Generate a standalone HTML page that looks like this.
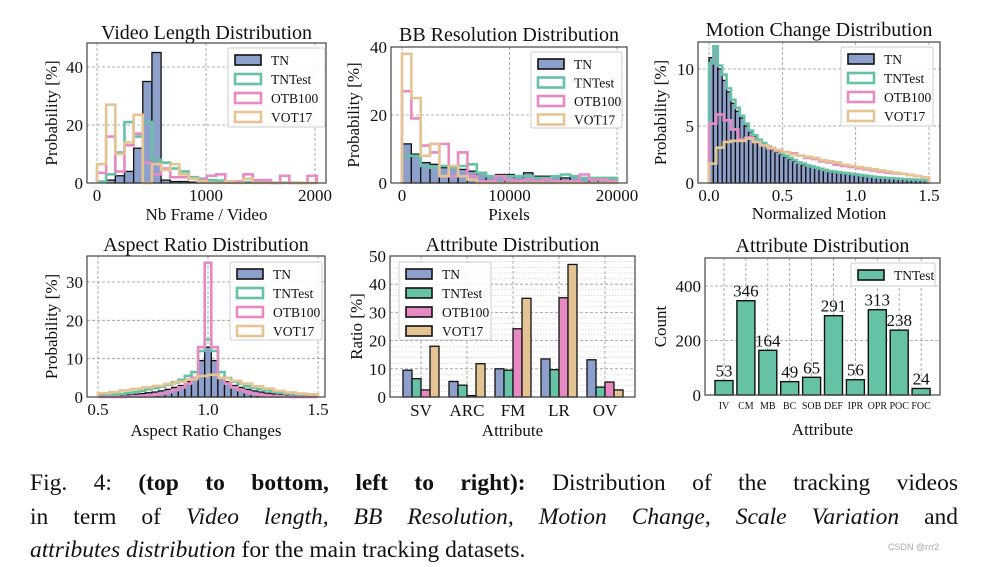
<!DOCTYPE html>
<html><head><meta charset="utf-8">
<style>
body{margin:0;background:#fff;width:981px;height:563px;overflow:hidden;position:relative;font-family:"Liberation Serif",serif}
svg{position:absolute;left:0;top:0}
.cap{position:absolute;left:30px;width:928px;font-size:23.5px;color:#111;line-height:33px;white-space:nowrap}
.j{text-align:justify;text-align-last:justify}
</style></head><body>
<svg id="fig" width="981" height="563" viewBox="0 0 981 563" font-family="Liberation Serif, serif"></svg>
<div class="cap j" style="top:467px">Fig. 4: <b>(top to bottom, left to right):</b> Distribution of the tracking videos</div>
<div class="cap j" style="top:501px">in term of <i>Video length</i>, <i>BB Resolution</i>, <i>Motion Change</i>, <i>Scale Variation</i> and</div>
<div class="cap" style="top:534px"><i>attributes distribution</i> for the main tracking datasets.</div>
<div style="position:absolute;left:888px;top:542px;font:9px 'Liberation Sans',sans-serif;color:#aaa">CSDN @rrr2</div>
<script>
// ---- data ----
const seriesNames = ["TN","TNTest","OTB100","VOT17"];
// Panel 1: video length (frames)
const vlTN = [0,1,2.5,4,12,35,45,1,0.5,0.5,0.3,0.3,0.2,0.2,0.1,0.1,0.1,0.1,0,0,0,0,0,0];
const vlTNTest = [0.5,3,10.5,21,16,21,8,7,5,4,2,1.5,1,0.8,0.5,0.5,0.3,0.2,0.2,0.1,0.1,0.1,0,0];
const vlOTB = [3.5,16,4,13,17,7,3,5,2,2,1.5,1,2.5,3,0.5,0.5,3,1,1,0,2.5,0,0,2.5];
const vlVOT = [6.5,27,10,14,23.5,0,6.5,4.5,6.5,3,1.5,0.5,0,0,0.5,0,1.5,0,0,0,0,0,0,0];
const vlTicksX = [0,1000,2000];
const vlTicksY = [0,20,40];
// Panel 2: BB resolution (pixels)
const bbTN = [11.5,8.5,6,5.5,4.5,4.5,4,3.5,3,2,2.5,2.5,2,3,2,2,2,1.5,2,1.5,1.5,1.5,1.5];
const bbTNTest = [8,8,5,4.5,5,4.5,5,5.5,3,2,2,2,2,2,1.5,1.5,2,2.5,2,1.5,1.5,1.5,1.5];
const bbOTB = [27,19,11,9,11.5,2,9,2,0.5,0.5,2,1,0.5,1,0.5,1,0.5,0.5,0.5,2.5,1,1,0.5];
const bbVOT = [38,25,8,11.5,2,5,2,1,0,0,0,0,0,0,0,0,0,0,0,0,0,0,0];
const bbTicksX = [0,10000,20000];
const bbTicksY = [0,20,40];
// Panel 3: motion change
const mcTN = [11,12,10,9,8,7,6.3,5.7,5,4.5,4.1,3.7,3.4,3.1,2.9,2.7,2.5,2.3,2.1,1.9,1.8,1.6,1.5,1.4,1.3,1.2,1.1,1.0,0.95,0.9,0.85,0.8,0.75,0.7,0.65,0.6,0.55,0.5,0.48,0.45,0.42,0.4,0.37,0.35,0.32,0.3,0.28,0.26,0.24,0.22];
const mcTNTest = [10.5,12,10.3,9.5,8.3,7.3,6.6,5.9,5.2,4.6,4.2,3.8,3.5,3.2,3,2.8,2.6,2.4,2.2,2,1.8,1.7,1.55,1.45,1.35,1.25,1.15,1.05,1,0.95,0.9,0.85,0.8,0.75,0.7,0.65,0.6,0.55,0.5,0.48,0.45,0.42,0.4,0.37,0.35,0.32,0.3,0.28,0.26,0.24];
const mcOTB = [5.2,6,5.5,4.7,3.8,4,3.6,3.3,3,2.8,2.7,2.6,2.4,2.2,2.1,1.9,1.8,1.6,1.5,1.4,1.3,1.2,1.1,1,0.9,0.85,0.8,0.7,0.6,0.5];
const mcVOT = [1.7,3.1,3.6,3.7,3.7,3.9,3.6,3.3,3.1,2.9,2.7,2.5,2.4,2.3,2.2,2.0,1.9,1.8,1.6,1.5,1.4,1.3,1.2,1.1,1.0,0.9,0.8,0.7,0.6,0.5];
const mcTicksX = [0,0.5,1.0,1.5];
const mcTicksY = [0,5,10];
// Panel 4: aspect ratio
const arTN = [0,0,0.2,0.3,0.5,0.7,0.9,1.1,1.3,1.6,2,2.5,3,4,5,9.5,13,9.5,5,4,3,2.5,2,1.6,1.3,1.0,0.8,0.6,0.5,0.3,0.2,0.1,0.1];
const arTNTest = [0.3,0.4,0.6,0.8,1,1.3,1.6,2,2.3,2.7,3.2,3.8,4.5,5.5,6.5,12,15,12,6.5,5,4,3.4,2.8,2.4,2,1.7,1.4,1.1,0.9,0.7,0.5,0.4,0.3];
const arOTB = [0,0,0,0,0.1,0.2,0.3,0.4,0.6,0.9,1.3,1.8,2.5,3.5,5,13,35,13,5,3.5,2.5,1.8,1.3,0.9,0.6,0.4,0.3,0.2,0.1,0,0,0,0];
const arVOT = [1,1.3,1.7,2.1,2.5,2.9,3.4,4,4.6,5.5,5.8,5,4.2,3.5,2.8,2.2,1.6,1.2,0.9,0.7];
const arTicksX = [0.5,1.0,1.5];
const arTicksY = [0,10,20,30];
// Panel 5: attribute ratio
const attrCats = ["SV","ARC","FM","LR","OV"];
const attrTN = [9.5,5.5,10,13.5,13.2];
const attrTNTest = [6.5,4.2,9.5,9.7,3.5];
const attrOTB = [2.5,0.5,24.2,35.2,5.3];
const attrVOT = [18,11.8,35,47,2.5];
const attrTicksY = [0,10,20,30,40,50];
// Panel 6: attribute counts
const cntCats = ["IV","CM","MB","BC","SOB","DEF","IPR","OPR","POC","FOC"];
const cntVals = [53,346,164,49,65,291,56,313,238,24];
const cntTicksY = [0,200,400];

// ---- drawing ----
const NS="http://www.w3.org/2000/svg";
const svg=document.getElementById('fig');
const COL={TN:"#8da0cb",TNTest:"#66c2a5",OTB100:"#e78ac3",VOT17:"#e5c494"};
function el(tag,attrs,parent){const e=document.createElementNS(NS,tag);for(const k in attrs)e.setAttribute(k,attrs[k]);(parent||svg).appendChild(e);return e;}
function lin(d0,p0,d1,p1){return v=>p0+(v-d0)*(p1-p0)/(d1-d0);}
function txt(x,y,s,size,anchor,parent,name,extra){
  const t=el('text',Object.assign({x:x,y:y,'font-size':size,'text-anchor':anchor||'middle',fill:'#111'},extra||{}),parent);
  t.textContent=s;
  
  
  return t;
}
function panel(p){
  const g=el('g',{});
  
  
  const X=p.xs?lin(...p.xs):null, Y=lin(...p.ys);
  const f=p.frame;
  const grid=el('g',{stroke:'#999','stroke-width':0.8,'stroke-dasharray':'3,2'},g);
  
  
  if(p.minor){p.minor.forEach(v=>{const l=el('line',{x1:f.l,x2:f.r,y1:Y(v),y2:Y(v),stroke:'#ccc','stroke-dasharray':'1.5,1.5','stroke-width':0.6},grid);
    
    });}
  p.ticksY.forEach(v=>{const l=el('line',{x1:f.l,x2:f.r,y1:Y(v),y2:Y(v)},grid);
    
    
    txt(f.l-4,Y(v)+6,String(v),p.tickSize||17,'end',g,'y-tick-label');});
  const xpos=p.xcenters||p.ticksX.map(v=>X(v));
  const xlab=p.xcats||p.ticksX.map(v=>(p.fmt?p.fmt(v):String(v)));
  xpos.forEach((x,i)=>{const l=el('line',{x1:x,x2:x,y1:f.t,y2:f.b},grid);
    
    
    txt(x,f.b+(p.xTickDy||18),xlab[i],p.xTickSize||17,'middle',g,'x-tick-label');});
  p.draw(g,X,Y);
  const fr=el('rect',{x:f.l,y:f.t,width:f.r-f.l,height:f.b-f.t,fill:'none',stroke:'#444','stroke-width':1.2},g);
  
  
  txt((f.l+f.r)/2,p.titleY,p.title,20,'middle',g,'chart-title');
  txt((f.l+f.r)/2,p.xlabelY,p.xlabel,17,'middle',g,'x-axis-title');
  txt(0,0,p.ylabel,17,'middle',g,'y-axis-title',{transform:`translate(${p.ylabelX},${(f.t+f.b)/2}) rotate(-90)`});
  if(p.legend){const L=p.legend;
    const lg=el('g',{},g);
    
    
    const bx=el('rect',{x:L.x,y:L.y,width:L.w,height:L.h,fill:'#fff','fill-opacity':0.85,stroke:'#ccc',rx:2},lg);
    
    
    L.items.forEach((nm,i)=>{const yy=L.y+7+i*L.step;
      const filled=L.filled||nm==='TN';
      const r=el('rect',{x:L.x+7,y:yy,width:26,height:10,fill:filled?COL[nm]:'none',stroke:filled?'#111':COL[nm],'stroke-width':filled?1.6:2.6},lg);
      
      
      txt(L.x+43,yy+10,nm,13.5,'start',lg,'legend-entry');});}
}
function hist(g,X,Y,vals,start,w,name,filled){
  if(filled){vals.forEach((v,i)=>{if(v<=0)return;
    const x0=X(start+i*w),x1=X(start+(i+1)*w);
    const r=el('rect',{x:x0,y:Y(v),width:x1-x0,height:Y(0)-Y(v),fill:COL[name],stroke:'#111','stroke-width':1.3},g);
    
    });return;}
  let d=`M${X(start)},${Y(0)}`;
  vals.forEach((v,i)=>{d+=` L${X(start+i*w)},${Y(v)} L${X(start+(i+1)*w)},${Y(v)}`;});
  d+=` L${X(start+vals.length*w)},${Y(0)}`;
  const pth=el('path',{d:d,fill:'none',stroke:COL[name],'stroke-width':2.6,'stroke-linejoin':'miter'},g);
  
  
}
function four(sets,starts,widths){return (g,X,Y)=>{seriesNames.forEach((n,k)=>hist(g,X,Y,sets[k],starts[k],widths[k],n,k===0));};}

panel({name:'video-length-panel',frame:{l:87,r:326,t:43,b:183},xs:[0,97,2000,315],ys:[0,183,40,67],
  ticksX:vlTicksX,ticksY:vlTicksY,title:'Video Length Distribution',titleY:39,xlabel:'Nb Frame / Video',xlabelY:220,ylabel:'Probability [%]',ylabelX:57,
  legend:{x:228,y:48,w:97,h:79,step:19,items:seriesNames},
  draw:four([vlTN,vlTNTest,vlOTB,vlVOT],[0,0,0,0],[84,84,84,84])});
panel({name:'bb-resolution-panel',frame:{l:391,r:627,t:47,b:183},xs:[0,402,20000,617],ys:[0,183,40,47],
  ticksX:bbTicksX,ticksY:bbTicksY,title:'BB Resolution Distribution',titleY:41,xlabel:'Pixels',xlabelY:220,ylabel:'Probability [%]',ylabelX:359,
  legend:{x:531,y:52,w:91,h:76,step:18.5,items:seriesNames},
  draw:four([bbTN,bbTNTest,bbOTB,bbVOT],[0,0,0,0],[869.6,869.6,869.6,869.6])});
panel({name:'motion-change-panel',frame:{l:698,r:940,t:42,b:183},xs:[0,709,1.5,929],ys:[0,183,10,69],
  ticksX:mcTicksX,ticksY:mcTicksY,fmt:v=>v.toFixed(1),title:'Motion Change Distribution',titleY:36,xlabel:'Normalized Motion',xlabelY:219,ylabel:'Probability [%]',ylabelX:666,
  legend:{x:841,y:47,w:92,h:79,step:19,items:seriesNames},
  draw:four([mcTN,mcTNTest,mcOTB,mcVOT],[0,0,0,0],[0.03,0.03,0.05,0.05])});
panel({name:'aspect-ratio-panel',frame:{l:87,r:325,t:256,b:397},xs:[0.5,98,1.5,318],ys:[0,397,30,282],
  ticksX:arTicksX,ticksY:arTicksY,fmt:v=>v.toFixed(1),title:'Aspect Ratio Distribution',titleY:251,xlabel:'Aspect Ratio Changes',xlabelY:436,ylabel:'Probability [%]',ylabelX:57,
  legend:{x:230,y:262,w:92,h:78,step:19,items:seriesNames},
  draw:four([arTN,arTNTest,arOTB,arVOT],[0.505,0.505,0.505,0.5],[0.03,0.03,0.03,0.05])});
const attrSets=[attrTN,attrTNTest,attrOTB,attrVOT];
const minor5=[];for(let v=2;v<50;v+=2){if(v%10)minor5.push(v);}
panel({name:'attribute-ratio-panel',frame:{l:390,r:635,t:256,b:397},ys:[0,397,50,256],minor:minor5,
  ticksY:attrTicksY,xcenters:attrCats.map((c,i)=>421+46*i),xcats:attrCats,xTickDy:19,xTickSize:17,
  title:'Attribute Distribution',titleY:251,xlabel:'Attribute',xlabelY:436,ylabel:'Ratio [%]',ylabelX:362,
  legend:{x:399,y:262,w:92,h:78,step:19,items:seriesNames,filled:true},
  draw:(g,X,Y)=>{attrCats.forEach((c,i)=>{seriesNames.forEach((n,k)=>{const v=attrSets[k][i];
    const cx=421+46*i+(k-1.5)*9;
    const r=el('rect',{x:cx-4.5,y:Y(v),width:9,height:Y(0)-Y(v),fill:COL[n],stroke:'#111','stroke-width':1.3},g);
    
    });});}});
panel({name:'attribute-count-panel',frame:{l:705,r:940,t:258,b:395},ys:[0,395,400,286],
  ticksY:cntTicksY,xcenters:cntCats.map((c,i)=>724+21.9*i),xcats:cntCats,xTickDy:14,xTickSize:10,
  title:'Attribute Distribution',titleY:252,xlabel:'Attribute',xlabelY:435,ylabel:'Count',ylabelX:666,
  legend:{x:851,y:263,w:84,h:23,step:19,items:['TNTest'],filled:true},
  draw:(g,X,Y)=>{cntCats.forEach((c,i)=>{const v=cntVals[i];const cx=724+21.9*i;
    const r=el('rect',{x:cx-9,y:Y(v),width:18,height:Y(0)-Y(v),fill:COL.TNTest,stroke:'#111','stroke-width':1.4},g);
    
    
    txt(cx,Y(v)-4,String(v),17,'middle',g,'bar-value-label');});}});
</script>
</body></html>
